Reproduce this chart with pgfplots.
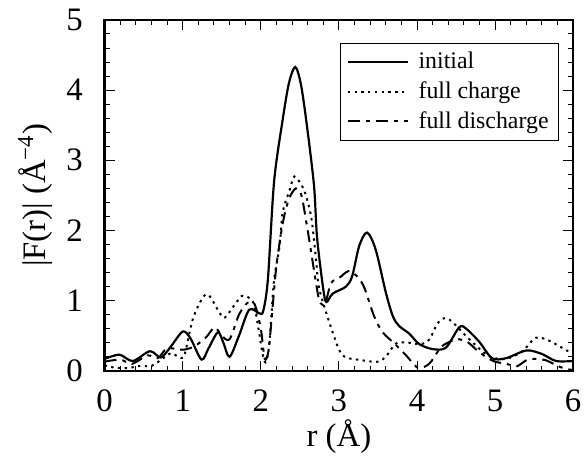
\documentclass[border=0pt]{standalone}
\usepackage{fontspec}
\setmainfont{Liberation Serif}
\usepackage{pgfplots}
\pgfplotsset{compat=1.18}
\begin{document}
\begin{tikzpicture}
\begin{axis}[
  name=ax,
  scale only axis,
  width=235bp, height=176bp,
  xmin=0, xmax=6, ymin=0, ymax=5,
  xtick={0,1,2,3,4,5,6}, ytick={0,1,2,3,4,5},
  minor x tick num=4, minor y tick num=4,
  tick align=inside,
  major tick length=5bp, minor tick length=2.5bp,
  axis line style={line width=1.2bp},
  every tick/.style={black, line width=0.5bp},
  /pgf/number format/assume math mode=true,
  ticklabel style={font=\fontsize{16.5}{18}\selectfont},
  xticklabel style={yshift=-6bp},
  yticklabel style={xshift=-7.5bp},
  xlabel={r (Å)}, ylabel={|F(r)| (Å\textsuperscript{−4})},
  label style={font=\fontsize{16.5}{18}\selectfont},
  xlabel style={yshift=3bp},
  ylabel style={yshift=0bp},
  legend style={at={(rel axis cs:0.97,0.935)}, anchor=north east, draw=black, line width=0.6bp,
    font=\fontsize{12}{13}\selectfont, inner xsep=3bp, inner ysep=2.5bp, row sep=1bp},
  legend cell align=left,
  legend image code/.code={\draw[#1] (4bp,0bp) -- (34bp,0bp); \path (37bp,0bp);},
]
% initial
\addplot[black, line width=1.1bp, smooth, tension=0.5] coordinates {
(0,0.17) (0.19,0.23) (0.36,0.14) (0.58,0.28) (0.72,0.19) (0.85,0.35) (1.0,0.56) (1.1,0.46) (1.24,0.16)
(1.33,0.32) (1.45,0.55) (1.52,0.4) (1.6,0.2) (1.72,0.5) (1.85,0.87) (1.98,0.82) (2.03,0.85) (2.09,1.3)
(2.17,2.7) (2.28,3.58) (2.36,4.1) (2.44,4.33) (2.51,4.1) (2.58,3.58) (2.68,2.65) (2.72,1.9) (2.8,1.16)
(2.84,0.98) (2.92,1.1) (3.09,1.2) (3.17,1.35) (3.26,1.78) (3.36,1.97) (3.47,1.73) (3.6,1.12) (3.69,0.78)
(3.77,0.64) (3.9,0.53) (4.03,0.38) (4.2,0.31) (4.37,0.33) (4.54,0.62) (4.63,0.6) (4.8,0.41) (4.96,0.18)
(5.14,0.18) (5.4,0.29) (5.6,0.24) (5.78,0.14) (6,0.14)
};
\addlegendentry{initial}
% full charge
\addplot[black, line width=1bp, smooth, tension=0.5, dash pattern=on 1.2bp off 2.2bp] coordinates {
(0,0.08) (0.1,0.05) (0.3,0.04) (0.45,0.07) (0.6,0.07) (0.75,0.18) (0.85,0.25) (0.95,0.2) (1.02,0.22)
(1.13,0.74) (1.26,1.05) (1.34,1.07) (1.47,0.83) (1.54,0.76) (1.69,0.98) (1.77,1.07) (1.9,0.98) (1.97,0.6) (2.02,0.25) (2.06,0.12)
(2.1,0.3) (2.13,0.7) (2.17,1.3) (2.24,1.78) (2.28,2.26) (2.37,2.58) (2.43,2.77) (2.53,2.63) (2.58,2.49)
(2.65,2.16) (2.71,1.55) (2.75,1.16) (2.92,0.55) (3.05,0.22) (3.3,0.15) (3.5,0.13) (3.6,0.2) (3.67,0.31)
(3.75,0.4) (3.9,0.4) (4.05,0.38) (4.16,0.45) (4.26,0.67) (4.35,0.75) (4.45,0.7) (4.67,0.45) (4.92,0.21) (5.14,0.17) (5.35,0.28)
(5.52,0.47) (5.69,0.43) (5.95,0.27) (6,0.25)
};
\addlegendentry{full charge}
% full discharge
\addplot[black, line width=1bp, smooth, tension=0.5, dash pattern=on 6bp off 3bp on 2bp off 3bp] coordinates {
(0,0.13) (0.2,0.16) (0.35,0.1) (0.55,0.22) (0.68,0.18) (0.8,0.32) (1.0,0.3) (1.15,0.35) (1.3,0.48)
(1.41,0.62) (1.5,0.5) (1.6,0.45) (1.72,0.8) (1.83,0.97) (1.92,0.95) (2.0,0.6) (2.05,0.17) (2.1,0.3)
(2.15,0.9) (2.2,1.5) (2.28,2.1) (2.36,2.45) (2.45,2.6) (2.52,2.5) (2.6,2.0) (2.65,1.65) (2.7,1.3)
(2.75,1.0) (2.82,0.95) (2.9,1.25) (3.0,1.32) (3.12,1.42) (3.22,1.36) (3.32,1.2) (3.45,0.78) (3.56,0.55)
(3.71,0.39) (3.86,0.22) (4.0,0.05) (4.1,0.06) (4.18,0.13) (4.31,0.34) (4.45,0.43) (4.54,0.45)
(4.66,0.4) (4.75,0.31) (4.88,0.2) (5.0,0.13) (5.15,0.1) (5.27,0.06) (5.4,0.15) (5.5,0.17) (5.65,0.15)
(5.8,0.07) (5.9,0.03) (6,0.01)
};
\addlegendentry{full discharge}
\end{axis}
\path ([xshift=-52.5bp, yshift=-39.5bp]ax.south west) rectangle ([xshift=6.5bp, yshift=10bp]ax.north east);
\end{tikzpicture}
\end{document}
